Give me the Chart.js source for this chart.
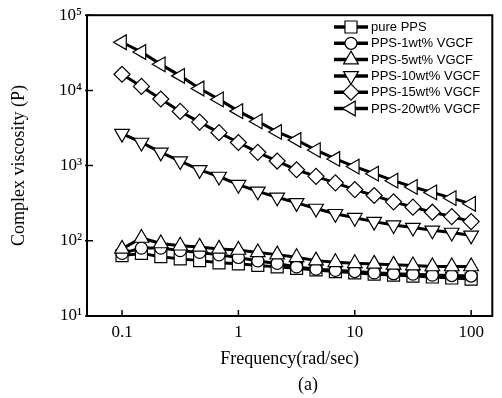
<!DOCTYPE html>
<html>
<head>
<meta charset="utf-8">
<script src="https://cdn.jsdelivr.net/npm/chart.js@4/dist/chart.umd.min.js"></script>
<style>
  html, body { margin: 0; padding: 0; background: #fff; }
  #wrap { width: 502px; height: 398px; }
</style>
</head>
<body>
<div id="wrap"><canvas id="viscChart" width="502" height="398"></canvas></div>
<script>
// frequency (rad/sec), 6 points per decade
const freq = [0.1, 0.1468, 0.2154, 0.3162, 0.4642, 0.6813, 1, 1.468, 2.154, 3.162,
              4.642, 6.813, 10, 14.68, 21.54, 31.62, 46.42, 68.13, 100];

// complex viscosity (P)
const purePPS = [63.5, 68, 61.5, 57.5, 54.5, 51, 49.5, 47, 45, 43, 41, 39, 37.5, 36, 35, 34, 33, 32, 31];
const pps1    = [68, 80, 80, 74, 70, 65, 60, 54, 50, 45, 42, 40.5, 39, 37.5, 36.5, 36, 35, 34.5, 34];
const pps5    = [78, 109, 92, 86, 83, 78, 75.5, 70, 65.5, 60.3, 54.5, 51.8, 50.2, 49.3, 47.9, 46.9, 45.5, 45.5, 45.5];
const pps10   = [2660, 2030, 1500, 1150, 877, 716, 557, 455, 379, 319, 269, 229, 203, 180, 162, 150, 138, 129, 118];
const pps15   = [16400, 11300, 7690, 5250, 3790, 2740, 2030, 1500, 1150, 880, 720, 590, 480, 400, 330, 280, 240, 210, 180];
const pps20   = [43700, 32400, 22200, 15600, 10600, 7590, 5300, 3870, 2800, 2190, 1610, 1225, 970, 780, 630, 520, 440, 370, 310];

const seriesNames = ['pure PPS', 'PPS-1wt% VGCF', 'PPS-5wt% VGCF', 'PPS-10wt% VGCF', 'PPS-15wt% VGCF', 'PPS-20wt% VGCF'];
const seriesData = [purePPS, pps1, pps5, pps10, pps15, pps20];
const markers = [
  {style: 'rect', rot: 0, r: 8.5},
  {style: 'circle', rot: 0, r: 6},
  {style: 'triangle', rot: 0, r: 8.5},
  {style: 'triangle', rot: 180, r: 8.5},
  {style: 'rectRot', rot: 0, r: 8},
  {style: 'triangle', rot: -90, r: 8.5}
];

const xTicks = [0.1, 1, 10, 100];
const yTicks = [10, 100, 1000, 10000, 100000];
const yLabels = ['10\u00B9', '10\u00B2', '10\u00B3', '10\u2074', '10\u2075'];

const serif = 'Liberation Serif';

// frame, inward ticks, legend and panel label
const extras = {
  id: 'extras',
  afterDraw(chart) {
    const {ctx, chartArea: a, scales} = chart;
    ctx.save();
    ctx.strokeStyle = '#000';
    ctx.lineWidth = 2;
    ctx.strokeRect(a.left, a.top, a.right - a.left, a.bottom - a.top);
    ctx.lineWidth = 1.5;
    ctx.beginPath();
    xTicks.forEach(v => {
      const x = scales.x.getPixelForValue(v);
      ctx.moveTo(x, a.bottom); ctx.lineTo(x, a.bottom - 6);
    });
    yTicks.forEach(v => {
      const y = scales.y.getPixelForValue(v);
      ctx.moveTo(a.left - 2, y); ctx.lineTo(a.left + 6, y);
    });
    ctx.stroke();

    // legend
    ctx.font = '13px "Liberation Sans"';
    ctx.textBaseline = 'middle';
    ctx.fillStyle = '#000';
    chart.data.datasets.forEach((ds, i) => {
      const y = 27 + i * 16.3;
      ctx.lineWidth = 3.5;
      ctx.beginPath(); ctx.moveTo(334, y); ctx.lineTo(368, y); ctx.stroke();
      ctx.fillStyle = '#fff';
      ctx.lineWidth = 1.2;
      Chart.helpers.drawPoint(ctx, {pointStyle: ds.pointStyle, rotation: ds.pointRotation,
        radius: ds.pointRadius, borderWidth: 1.2}, 351, y);
      ctx.fillStyle = '#000';
      ctx.fillText(ds.label, 371, y + 0.5);
    });

    ctx.font = '18px "' + serif + '"';
    ctx.textAlign = 'center';
    ctx.fillText('(a)', 308, 385);
    ctx.restore();
  }
};

new Chart(document.getElementById('viscChart'), {
  type: 'line',
  data: {
    labels: freq,
    datasets: seriesNames.map((name, i) => ({
      label: name,
      data: freq.map((f, k) => ({x: f, y: seriesData[i][k]})),
      borderColor: '#000',
      borderWidth: 3,
      backgroundColor: '#fff',
      pointStyle: markers[i].style,
      pointRotation: markers[i].rot,
      pointRadius: markers[i].r,
      pointBorderWidth: 1.2,
      pointBackgroundColor: '#fff',
      pointBorderColor: '#000',
      tension: 0,
      order: 5 - i
    }))
  },
  options: {
    responsive: false,
    animation: false,
    layout: {padding: {left: 0, right: 4, top: 12, bottom: 0}},
    plugins: {legend: {display: false}, tooltip: {enabled: false}},
    scales: {
      x: {
        type: 'logarithmic',
        min: 0.05, max: 152,
        afterBuildTicks: s => { s.ticks = xTicks.map(v => ({value: v})); },
        afterFit: s => { s.height = 82; },
        grid: {display: false, drawTicks: false},
        border: {display: false},
        ticks: {
          color: '#000', padding: 6, maxRotation: 0, autoSkip: false,
          font: {family: serif, size: 17},
          callback: v => String(v)
        },
        title: {display: true, text: 'Frequency(rad/sec)', color: '#000',
          font: {family: serif, size: 18}, padding: {top: 0, bottom: 28}}
      },
      y: {
        type: 'logarithmic',
        min: 10, max: 100000,
        afterBuildTicks: s => { s.ticks = yTicks.map(v => ({value: v})); },
        afterFit: s => { s.width = 87; },
        grid: {display: false, drawTicks: false},
        border: {display: false},
        ticks: {
          color: '#000', padding: 5, autoSkip: false,
          font: {family: serif, size: 17},
          callback: v => yLabels[yTicks.indexOf(v)]
        },
        title: {display: true, text: 'Complex viscosity (P)', color: '#000',
          font: {family: serif, size: 18}, padding: {top: 8, bottom: 0}}
      }
    }
  },
  plugins: [extras]
});
</script>
</body>
</html>
